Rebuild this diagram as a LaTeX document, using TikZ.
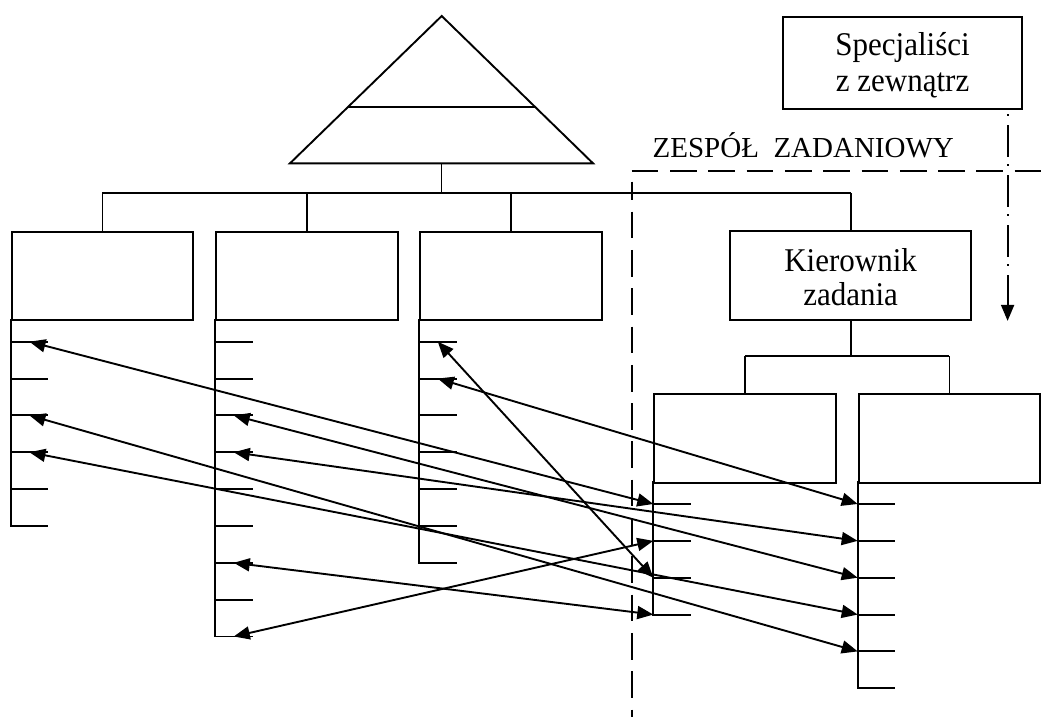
\documentclass[tikz,border=0pt]{standalone}
\usepackage{fontspec}
\setmainfont{Liberation Serif}
\usetikzlibrary{arrows.meta,calc}
\begin{document}
\begin{tikzpicture}[x=1pt,y=-1pt,
  line width=1.9pt,
  >={Triangle[length=16pt,width=13pt]},
  frame/.style={draw, line width=1.9pt, inner sep=0pt, anchor=north west},
  unit/.style={frame, minimum width=181.6pt, minimum height=88.3pt},
  boxtext/.style={anchor=base, inner sep=0pt, font=\fontsize{31}{36}\selectfont},
  link/.style={<->},
  teamline/.style={dash pattern=on 26.7pt off 11.6pt},
  outside/.style={dash pattern=on 32pt off 7pt on 2pt off 9pt, dash phase=35pt}
]
\useasboundingbox[fill=white] (0,0) rectangle (1052,717);

% top management pyramid
\coordinate (apex) at (441.7,16);
\coordinate (bl) at (290,163.3);
\coordinate (br) at (593,163.3);
\draw[line join=miter] (apex) -- (bl) -- (br) -- cycle;
\draw ($(apex)!0.62!(bl)$) -- ($(apex)!0.62!(br)$);
\coordinate (bm) at ($(bl)!0.5!(br)$);
\coordinate (bus) at (0,193.3);
\coordinate (sub) at (0,355.7);

% departments and the task manager
\node[unit] (b1) at (10.7,230.7) {};
\node[unit] (b2) at (215,230.7) {};
\node[unit] (b3) at (419,230.7) {};
\node[frame, minimum width=240.7pt, minimum height=89pt] (kz) at (729.3,230) {};
\node[frame, minimum width=238.7pt, minimum height=92.3pt] (sz) at (782.3,16) {};
\node[unit] (b4) at (653.3,393.3) {};
\node[unit] (b5) at (857.7,393.3) {};

\node[boxtext] (sz1) at ($(sz.north)+(0,40)$) {\scalebox{1}[1.07]{Specjaliści}};
\node[boxtext] (sz2) at ($(sz.north)+(0,75.7)$) {\scalebox{1}[1.07]{z zewnątrz}};
\node[boxtext] (kz1) at ($(kz.north)+(0,41)$) {\scalebox{1}[1.07]{Kierownik}};
\node[boxtext] (kz2) at ($(kz.north)+(0,75.7)$) {\scalebox{1}[1.07]{zadania}};

% reporting lines
\draw (bm) -- (bm |- bus);
\draw (b1.north |- bus) -- (kz.north |- bus);
\foreach \n in {b1,b2,b3,kz} \draw (\n.north) -- (\n.north |- bus);
\draw (kz.south) -- (kz.south |- sub);
\draw (b4.north |- sub) -- (b5.north |- sub);
\foreach \n in {b4,b5} \draw (\n.north) -- (\n.north |- sub);

% staff positions under each unit
\foreach \c/\x/\n/\y in {1/10.7/6/341.7, 2/215/9/341.7, 3/419/7/341.7, 4/653.3/4/504, 5/857.7/6/504} {
  \draw[line join=miter] (\x,{\y-23}) -- (\x,{\y+(\n-1)*36.85}) -- ++(37.5,0);
  \foreach \k in {1,...,\n} {
    \coordinate (c\c t\k) at (\x,{\y+(\k-1)*36.85});
    \coordinate (c\c m\k) at ({\x+18.75},{\y+(\k-1)*36.85});
    \draw (c\c t\k) -- ++(37.5,0);
  }
}

% assignments to the task team
\draw[link] (c1m1) -- (c4t1);
\draw[link] (c1m3) -- (c5t5);
\draw[link] (c1m4) -- (c5t4);
\draw[link] (c2m3) -- (c5t3);
\draw[link] (c2m4) -- (c5t2);
\draw[link] (c2m7) -- (c4t4);
\draw[link] (c2m9) -- (c4t2);
\draw[link] (c3m1) -- (c4t3);
\draw[link] (c3m2) -- (c5t1);

% task team boundary
\node[anchor=base west, inner sep=0pt, font=\fontsize{29}{34}\selectfont] (zz) at (651.7,157) {ZESPÓŁ\ \ ZADANIOWY};
\coordinate (tl) at (631.7,171);
\coordinate (tr) at (1052,171);
\coordinate (tb) at (631.7,717);
\draw[teamline] (tl) -- (tr);
\draw[teamline, dash phase=8.4pt] ($(tl)+(0,10.7)$) -- (tb);

% external specialists
\coordinate (sx) at ($(sz.south east)+(-15.3,0)$);
\draw[outside, ->] (sx) -- (sx |- kz.south);
\end{tikzpicture}
\end{document}
